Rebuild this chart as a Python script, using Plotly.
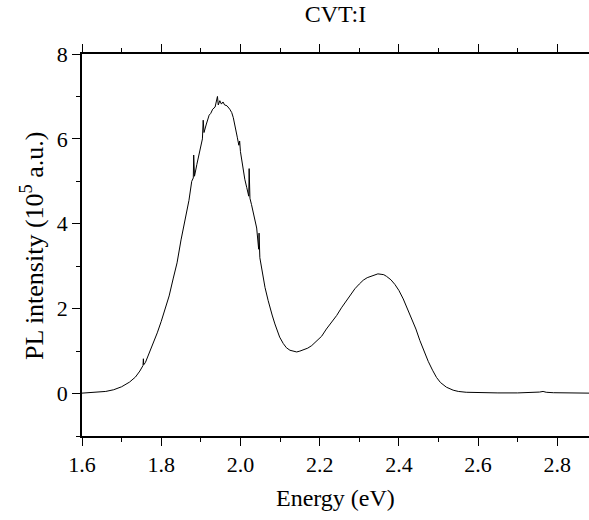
import plotly.graph_objects as go

energy = [1.600, 1.620, 1.640, 1.660, 1.680, 1.700, 1.720, 1.735, 1.746, 1.752, 1.754, 1.755, 1.756,
          1.760, 1.770, 1.780, 1.790, 1.800, 1.810, 1.820, 1.830, 1.840, 1.850, 1.860, 1.870, 1.877,
          1.881, 1.882, 1.884, 1.890, 1.898, 1.904, 1.906, 1.908, 1.914, 1.921, 1.925, 1.930, 1.936,
          1.940, 1.942, 1.944, 1.948, 1.952, 1.956, 1.960, 1.966, 1.973, 1.978, 1.982, 1.987, 1.992,
          1.996, 1.998, 2.000, 2.007, 2.011, 2.016, 2.021, 2.022, 2.024, 2.028, 2.035, 2.041, 2.046,
          2.047, 2.049, 2.055, 2.062, 2.070, 2.074, 2.080, 2.087, 2.093, 2.099, 2.108, 2.116, 2.125,
          2.135, 2.142, 2.150, 2.160, 2.170, 2.180, 2.190, 2.196, 2.205, 2.217, 2.230, 2.243, 2.255,
          2.268, 2.279, 2.289, 2.300, 2.310, 2.320, 2.331, 2.340, 2.347, 2.355, 2.362, 2.369, 2.380,
          2.390, 2.400, 2.411, 2.420, 2.432, 2.443, 2.453, 2.463, 2.474, 2.485, 2.495, 2.505, 2.520,
          2.537, 2.550, 2.570, 2.600, 2.650, 2.700, 2.740, 2.755, 2.764, 2.772, 2.790, 2.820, 2.850,
          2.880]
intensity = [0.01, 0.02, 0.03, 0.05, 0.09, 0.16, 0.27, 0.39, 0.53, 0.62, 0.66, 0.82, 0.68,
             0.73, 0.95, 1.17, 1.43, 1.70, 1.98, 2.30, 2.70, 3.08, 3.62, 4.05, 4.55, 5.00,
             5.08, 5.62, 5.12, 5.40, 5.73, 6.00, 6.44, 6.15, 6.35, 6.56, 6.60, 6.70, 6.75,
             6.88, 7.00, 6.80, 6.90, 6.82, 6.87, 6.80, 6.78, 6.70, 6.62, 6.50, 6.30, 6.04,
             5.85, 5.95, 5.70, 5.26, 5.05, 4.85, 4.65, 5.30, 4.60, 4.45, 4.15, 3.90, 3.40,
             3.78, 3.20, 2.85, 2.50, 2.19, 2.04, 1.85, 1.64, 1.47, 1.33, 1.18, 1.08, 1.02,
             0.99, 0.98, 1.00, 1.04, 1.07, 1.13, 1.21, 1.27, 1.35, 1.52, 1.68, 1.84, 2.02,
             2.19, 2.35, 2.47, 2.58, 2.67, 2.73, 2.77, 2.81, 2.82, 2.81, 2.80, 2.76, 2.68,
             2.57, 2.43, 2.23, 2.03, 1.78, 1.52, 1.25, 1.00, 0.76, 0.55, 0.38, 0.26, 0.15,
             0.08, 0.05, 0.03, 0.02, 0.015, 0.015, 0.02, 0.035, 0.05, 0.03, 0.02, 0.015, 0.01,
             0.01]

x_ticks = [1.6, 1.8, 2.0, 2.2, 2.4, 2.6, 2.8]
x_tick_labels = ["1.6", "1.8", "2.0", "2.2", "2.4", "2.6", "2.8"]
y_ticks = [0, 2, 4, 6, 8]
y_tick_labels = ["0", "2", "4", "6", "8"]

FONT = "Liberation Serif, Times New Roman, serif"

fig = go.Figure()
fig.add_trace(go.Scatter(x=energy, y=intensity, mode="lines",
                         line=dict(color="black", width=1), showlegend=False,
                         hoverinfo="skip"))

fig.update_layout(
    width=589, height=520,
    margin=dict(l=82, r=0, t=54, b=84),
    paper_bgcolor="white", plot_bgcolor="white",
    font=dict(family=FONT, color="black", size=20),
    title=dict(text="CVT:I", x=0.5, xanchor="center", xref="paper",
               y=1 - 14 / 520, yref="container", yanchor="middle",
               font=dict(family=FONT, size=24, color="black")),
    xaxis=dict(range=[1.6, 2.88], tickvals=x_ticks, ticktext=x_tick_labels,
               showgrid=False, zeroline=False, showline=True, linecolor="black",
               linewidth=1.6, mirror="ticks", ticks="outside", ticklen=8, tickwidth=1.4,
               tickcolor="black", tickfont=dict(family=FONT, size=22, color="black"),
               minor=dict(dtick=0.1, tick0=1.6, ticks="outside", ticklen=4, tickwidth=1.2,
                          tickcolor="black", showgrid=False)),
    yaxis=dict(range=[-1, 8], tickvals=y_ticks, ticktext=y_tick_labels,
               showgrid=False, zeroline=False, showline=True, linecolor="black",
               linewidth=1.6, mirror=False, ticks="outside", ticklen=8, tickwidth=1.4,
               tickcolor="black", tickfont=dict(family=FONT, size=22, color="black"),
               minor=dict(dtick=1, tick0=0, ticks="outside", ticklen=4, tickwidth=1.2,
                          tickcolor="black", showgrid=False)),
    annotations=[
        dict(text="Energy (eV)", x=0.5, xref="paper", y=-(498 - 436) / 382,
             yref="paper", xanchor="center", yanchor="middle", showarrow=False,
             font=dict(family=FONT, size=24, color="black")),
        dict(text="PL intensity (10<sup>5</sup> a.u.)", x=-(82 - 32) / 507, xref="paper",
             y=(436 - 246) / 382, yref="paper", xanchor="center", yanchor="middle",
             textangle=-90, showarrow=False,
             font=dict(family=FONT, size=26, color="black")),
    ],
)

fig.write_html("out.html")
